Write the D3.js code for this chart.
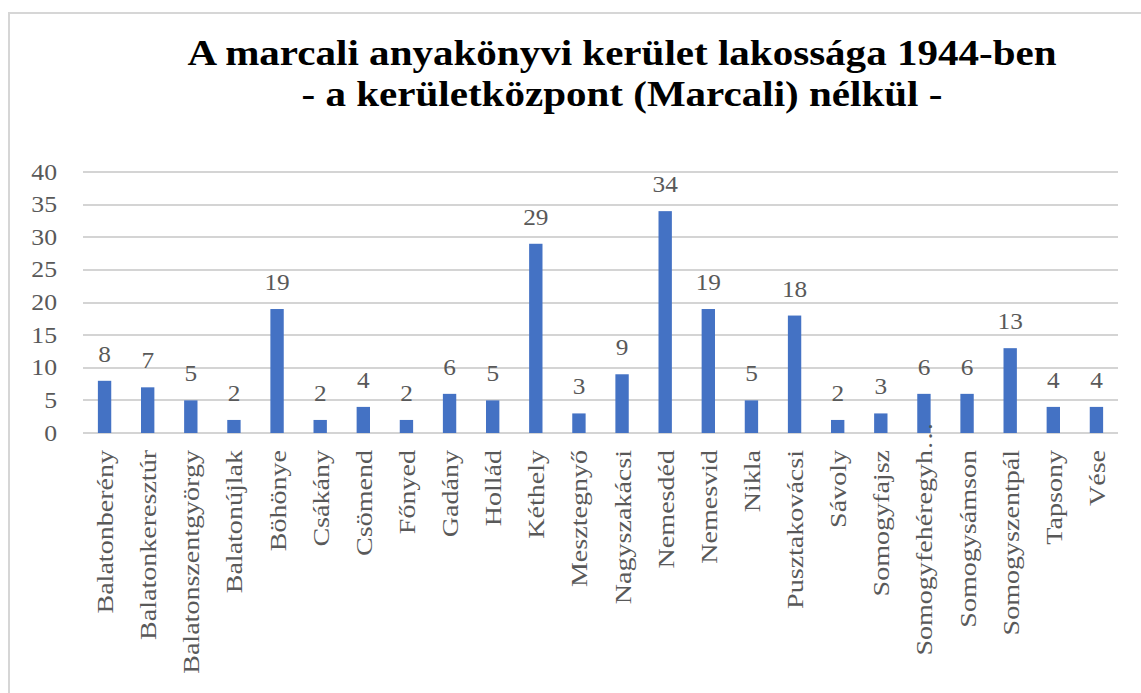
<!DOCTYPE html>
<html>
<head>
<meta charset="utf-8">
<script src="https://cdn.jsdelivr.net/npm/d3@7"></script>
<style>
  html, body { margin: 0; padding: 0; background: #fff; }
  svg { display: block; }
</style>
</head>
<body>
<svg id="chart" width="1141" height="693"></svg>
<script>
const categories = ["Balatonberény","Balatonkeresztúr","Balatonszentgyörgy","Balatonújlak","Böhönye","Csákány","Csömend","Főnyed","Gadány","Hollád","Kéthely","Mesztegnyő","Nagyszakácsi","Nemesdéd","Nemesvid","Nikla","Pusztakovácsi","Sávoly","Somogyfajsz","Somogyfehéregyh…","Somogysámson","Somogyszentpál","Tapsony","Vése"];
const values = [8,7,5,2,19,2,4,2,6,5,29,3,9,34,19,5,18,2,3,6,6,13,4,4];
const yTicks = [0,5,10,15,20,25,30,35,40];
const titleLines = ["A marcali anyakönyvi kerület lakossága 1944-ben", "- a kerületközpont (Marcali) nélkül -"];

const svg = d3.select("#chart");
const gray = "#595959";
const serif = "Liberation Serif";

// chart border
svg.append("rect")
  .attr("x", 9).attr("y", 13).attr("width", 1150).attr("height", 700)
  .attr("fill", "none").attr("stroke", "#d6d6d6").attr("stroke-width", 2);

const x = d3.scaleBand().domain(categories).range([83, 1118]).paddingInner(0.69).paddingOuter(0.345);
const y = d3.scaleLinear().domain([0, 40]).range([433, 172]);

// gridlines
const grid = svg.append("g").attr("class", "grid");
yTicks.forEach(t => {
  grid.append("line")
    .attr("x1", 83).attr("x2", 1118)
    .attr("y1", Math.round(y(t))).attr("y2", Math.round(y(t)))
    .style("stroke", "#d4d4d4").style("stroke-width", "2px")
    .attr("shape-rendering", "crispEdges");
});

// y tick labels
svg.append("g").selectAll("text").data(yTicks).join("text")
  .attr("transform", d => `translate(57,${y(d) + 7.5}) scale(1.12,1)`)
  .attr("text-anchor", "end")
  .style("font-family", serif).style("font-size", "23px").attr("fill", gray)
  .text(d => d);

// bars
svg.append("g").selectAll("rect").data(values).join("rect")
  .attr("x", (d, i) => x(categories[i]))
  .attr("width", x.bandwidth())
  .attr("y", d => y(d))
  .attr("height", d => y(0) - y(d))
  .attr("fill", "#4472C4");

// data labels
svg.append("g").selectAll("text").data(values).join("text")
  .attr("transform", (d, i) => `translate(${x(categories[i]) + x.bandwidth() / 2},${y(d) - 19}) scale(1.1,1)`)
  .attr("text-anchor", "middle")
  .style("font-family", serif).style("font-size", "23px").attr("fill", gray)
  .text(d => d);

// category labels (truncated labels: ellipsis overflows past the label end, as in the original)
const catG = svg.append("g");
catG.selectAll("text.main").data(categories).join("text")
  .attr("class", "main")
  .attr("transform", d => `translate(${x(d) + x.bandwidth() / 2},450) rotate(-90) scale(1.22,1)`)
  .attr("text-anchor", "end")
  .attr("dy", "0.37em")
  .style("font-family", serif).style("font-size", "23px").attr("fill", gray)
  .text(d => d.replace(/…$/, ""));
catG.selectAll("text.ell").data(categories.filter(d => d.endsWith("…"))).join("text")
  .attr("class", "ell")
  .attr("transform", d => `translate(${x(d) + x.bandwidth() / 2},450) rotate(-90) scale(1.22,1)`)
  .attr("text-anchor", "start")
  .attr("dy", "0.37em")
  .style("font-family", serif).style("font-size", "23px").attr("fill", gray)
  .text("…");

// title
svg.append("g").selectAll("text").data(titleLines).join("text")
  .attr("transform", (d, i) => `translate(622,${i === 0 ? 65 : 106}) scale(1.14,1)`)
  .attr("text-anchor", "middle")
  .style("font-family", serif).style("font-size", "36px").style("font-weight", "bold").attr("fill", "#000")
  .text(d => d);
</script>
</body>
</html>
